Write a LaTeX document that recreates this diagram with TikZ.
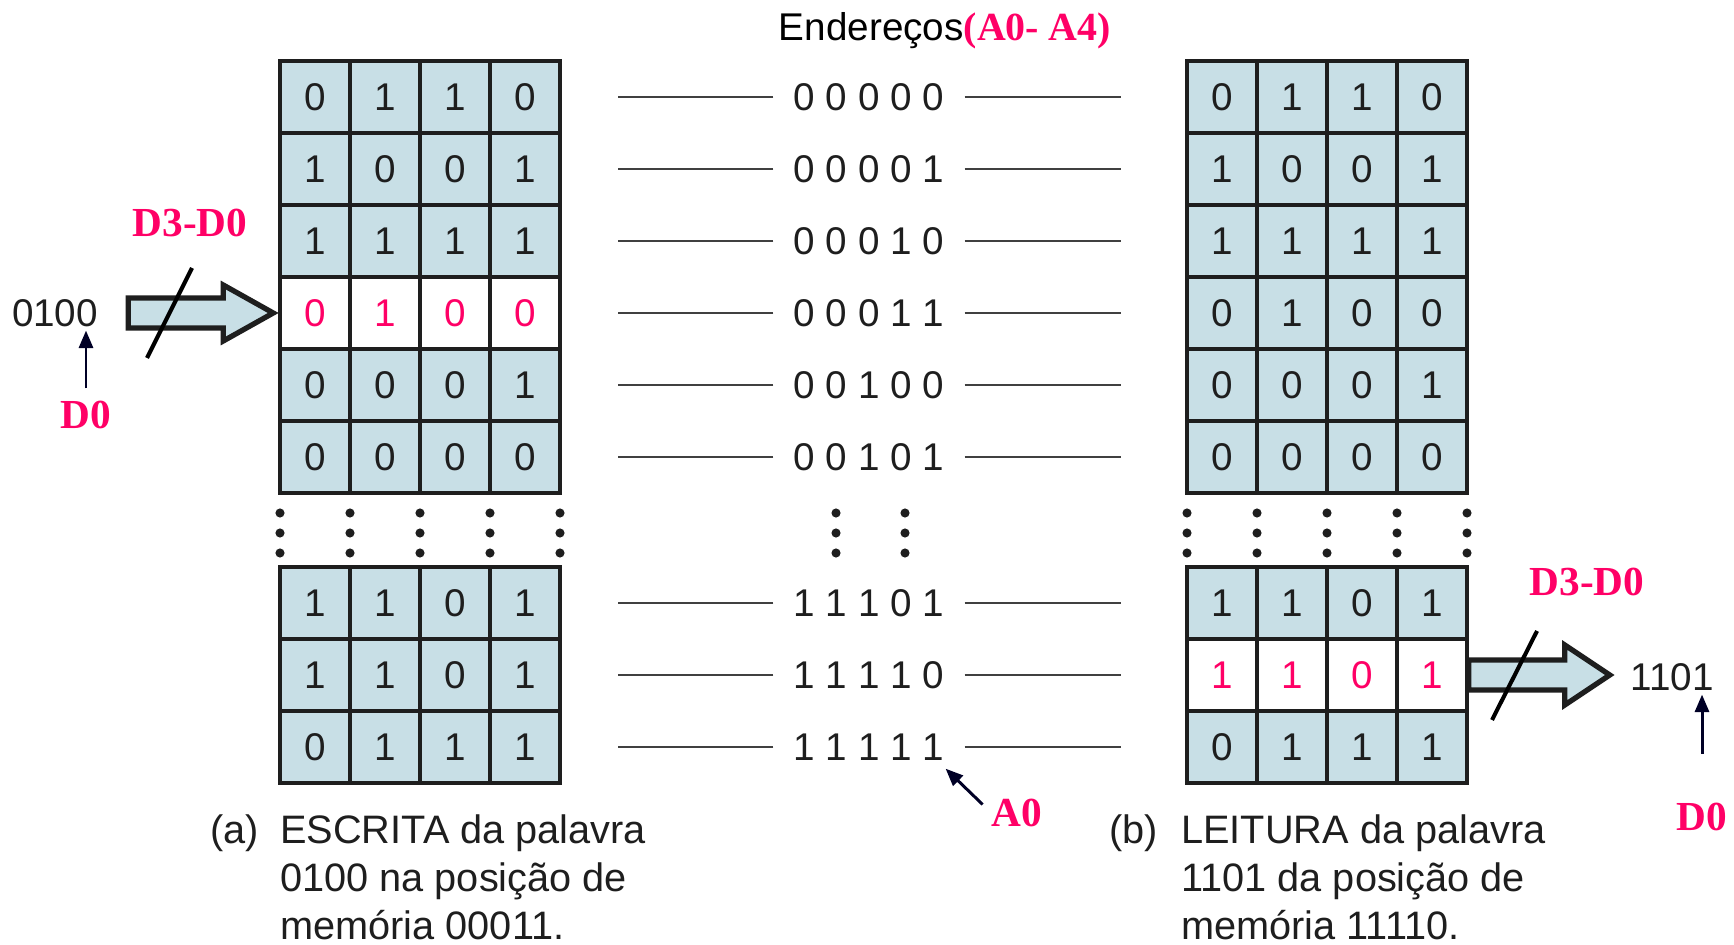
\documentclass[tikz,border=0pt]{standalone}
\usepackage{fontspec}
\setmainfont{Liberation Sans}
\newfontfamily\labelfont{Liberation Serif}
\usetikzlibrary{calc,arrows.meta,positioning}
\definecolor{cellblue}{RGB}{200,223,230}
\definecolor{hot}{RGB}{255,0,102}
\definecolor{ink}{RGB}{30,30,30}
\newcommand{\bitfont}{\fontsize{22}{26}\selectfont}
\newcommand{\capfont}{\fontsize{22.6}{27.2}\selectfont}
\tikzset{
    cell/.style={rectangle, draw=ink, line width=2pt, minimum width=1.4cm, minimum height=1.44cm, inner sep=0pt, font=\bitfont},
    addr/.style={inner sep=0pt, text=ink, font=\bitfont},
    word/.style={inner sep=0pt, text=ink, font=\bitfont},
    redlabel/.style={inner sep=0pt, text=hot, font=\labelfont\bfseries\fontsize{23.5}{26}\selectfont},
    caption/.style={inner sep=0pt, text=ink, font=\capfont, align=left, anchor=base west}
}
\begin{document}
\begin{tikzpicture}[
    x=0.02cm, y=-0.02cm,
    addrline/.style={draw=black!75, line width=0.9pt},
    ptr/.style={-{Triangle[length=10pt,width=8pt]}, line width=1.7pt, draw=black!85!blue},
    slash/.style={line width=2.3pt, line cap=butt},
    busarrow/.style={draw=ink, line width=3pt, fill=cellblue, line join=miter}
]
\useasboundingbox (0,0) rectangle (1734,945);

% Title
\node (title) at (945,31) {\bitfont Endere\c{c}os{\labelfont\bfseries\fontsize{22.7}{26}\selectfont\color{hot}(A0- A4)}};

% Memory words, addresses and lines
\foreach \a/\b/\c/\d/\ad [count=\r] in {0/1/1/0/0 0 0 0 0, 1/0/0/1/0 0 0 0 1, 1/1/1/1/0 0 0 1 0,
    0/1/0/0/0 0 0 1 1, 0/0/0/1/0 0 1 0 0, 0/0/0/0/0 0 1 0 1,
    1/1/0/1/1 1 1 0 1, 1/1/0/1/1 1 1 1 0, 0/1/1/1/1 1 1 1 1} {
    \pgfmathsetmacro\yy{\r<7 ? 97+72*(\r-1) : 603+72*(\r-7)}
    \ifnum\r=4 \def\fcL{white}\def\tcL{hot}\else\def\fcL{cellblue}\def\tcL{ink}\fi
    \ifnum\r=8 \def\fcR{white}\def\tcR{hot}\else\def\fcR{cellblue}\def\tcR{ink}\fi
    \foreach \v [count=\k] in {\a,\b,\c,\d} {
        \node[cell, fill=\fcL, text=\tcL] (L-\r-\k) at (245+70*\k,\yy) {\v};
        \node[cell, fill=\fcR, text=\tcR] (R-\r-\k) at (1152+70*\k,\yy) {\v};
    }
    \node[addr] (A-\r) at (869,\yy) {\ad};
    \draw[addrline] (A-\r.west) ++(-20,0) -- ++(-155,0);
    \draw[addrline] (A-\r.east) ++(20,0) -- ++(156,0);
}

% Gaps in the arrays
\foreach \y in {513,533,553} {
    \foreach \x in {0,...,4} {
        \fill[ink] (280+70*\x,\y) circle (2.6pt);
        \fill[ink] (1187+70*\x,\y) circle (2.6pt);
    }
    \fill[ink] (836,\y) circle (2.6pt);
    \fill[ink] (905,\y) circle (2.6pt);
}

% Write bus
\draw[busarrow] ($(L-4-1.west)+(-5,0)$) -- ++(-50,-28) -- ++(0,13) -- ++(-95,0)
    -- ++(0,30) -- ++(95,0) -- ++(0,13) -- cycle;
\draw[slash] (147,358) -- (192,268);
\node[redlabel] (busL) at (190,223) {D3-D0};
\node[word] (wordL) at (55,313) {0100};
\node[redlabel] (d0L) at (86,415) {D0};
\draw[ptr, shorten <=7pt, shorten >=2pt] (d0L.north) -- (d0L.north |- wordL.south);

% Read bus
\draw[busarrow] (R-8-4.east) ++(0,-15) -- ++(96,0) -- ++(0,-15) -- ++(45,30)
    -- ++(-45,30) -- ++(0,-15) -- ++(-96,0) -- cycle;
\draw[slash] (1492,720) -- (1537,631);
\node[redlabel] (busR) at (1587,582) {D3-D0};
\node[word] (wordR) at (1672,677) {1101};
\node[redlabel] (d0R) at (1702,817) {D0};
\draw[ptr, shorten <=28pt, shorten >=2pt] (d0R.north) -- (d0R.north |- wordR.south);

% Address bit A0
\node[redlabel] (a0) at (1017,813) {A0};
\draw[ptr, shorten <=7pt] (a0.west) -- ([shift={(1,8)}]A-9.south east);

% Captions (base of the last line)
\node[caption] (tagA) at (210,843) {(a)};
\node[caption] (capA) at (280,939) {ESCRITA da palavra\\0100 na posi\c{c}\~ao de\\mem\'oria 00011.};
\node[caption] (tagB) at (1109,843) {(b)};
\node[caption] (capB) at (1181,939) {LEITURA da palavra\\1101 da posi\c{c}\~ao de\\mem\'oria 11110.};

\end{tikzpicture}
\end{document}
